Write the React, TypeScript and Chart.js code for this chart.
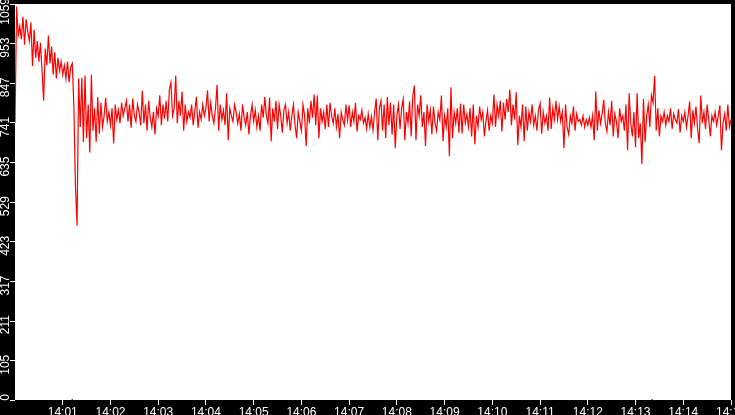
import { useEffect, useRef } from "react";
import { Chart, registerables } from "chart.js";

Chart.register(...registerables);

// one reading every 2 s, from 14:00:00
const SAMPLE_SECONDS = 2;
const READINGS = [
  741, 1052, 975, 1000, 965, 1025, 950, 1018, 985, 960,
  1010, 893, 990, 915, 960, 905, 955, 880, 801, 940,
  895, 975, 900, 945, 870, 930, 860, 915, 880, 905,
  870, 895, 860, 905, 850, 890, 900, 785, 570, 466,
  860, 730, 862, 690, 868, 700, 790, 662, 870, 720,
  780, 690, 810, 712, 795, 730, 760, 808, 745, 770,
  735, 780, 686, 790, 750, 775, 740, 795, 760, 780,
  800, 745, 790, 728, 806, 760, 745, 790, 770, 735,
  827, 740, 790, 720, 800, 756, 730, 770, 710, 780,
  760, 815, 735, 790, 752, 800, 745, 830, 849, 760,
  780, 867, 740, 800, 760, 825, 720, 790, 745, 770,
  755, 790, 735, 772, 811, 728, 770, 750, 790, 760,
  780, 828, 745, 795, 760, 740, 780, 843, 720, 790,
  750, 775, 735, 820, 695, 780, 760, 745, 790, 770,
  740, 765, 720, 790, 755, 735, 770, 710, 760, 790,
  745, 775, 730, 760, 720, 790, 755, 810, 760, 740,
  809, 692, 780, 745, 800, 725, 790, 760, 715, 775,
  790, 740, 770, 720, 760, 790, 735, 700, 770, 745,
  720, 790, 760, 679, 780, 740, 800, 755, 817, 735,
  814, 700, 780, 745, 770, 725, 790, 730, 795, 760,
  740, 780, 730, 765, 700, 770, 750, 735, 790, 748,
  788, 730, 770, 745, 795, 718, 760, 750, 775, 740,
  755, 725, 765, 730, 758, 722, 770, 806, 695, 780,
  800, 720, 790, 700, 810, 735, 795, 710, 790, 673,
  760, 790, 725, 780, 804, 695, 770, 740, 798, 705,
  812, 841, 695, 790, 760, 815, 730, 770, 679, 790,
  745, 775, 710, 785, 740, 720, 770, 750, 814, 692,
  760, 730, 780, 652, 836, 700, 770, 740, 780, 715,
  793, 713, 790, 740, 765, 730, 780, 705, 790, 684,
  760, 730, 785, 750, 770, 705, 745, 775, 720, 760,
  740, 817, 730, 790, 760, 800, 718, 795, 750, 805,
  770, 830, 735, 790, 750, 823, 681, 760, 730, 790,
  692, 785, 720, 770, 745, 790, 735, 760, 720, 775,
  793, 712, 770, 740, 760, 720, 809, 725, 780, 750,
  800, 750, 785, 745, 770, 673, 790, 730, 710, 760,
  740, 785, 720, 765, 745, 750, 735, 760, 730, 750,
  735, 755, 730, 760, 695, 825, 720, 775, 740, 765,
  803, 740, 718, 770, 735, 800, 705, 765, 745, 700,
  780, 745, 760, 720, 790, 668, 820, 740, 705, 770,
  676, 820, 700, 740, 631, 805, 690, 760, 790, 730,
  815, 795, 867, 720, 780, 705, 760, 745, 770, 735,
  760, 745, 780, 725, 765, 750, 740, 778, 715, 760,
  745, 770, 730, 760, 798, 700, 775, 740, 785, 725,
  687, 814, 740, 770, 725, 790, 750, 705, 760, 745,
  770, 735, 760, 788, 668, 740, 765, 720, 790, 730,
  750,
];

// small blue event marks on the zero line (seconds after 14:00)
const MARKER_SECONDS = [72, 801];

const X_TICK_SECONDS = [60, 120, 180, 240, 300, 360, 420, 480, 540, 600, 660, 720, 780, 840, 900];
const X_TICK_LABELS = [
  "14:01", "14:02", "14:03", "14:04", "14:05", "14:06", "14:07", "14:08",
  "14:09", "14:10", "14:11", "14:12", "14:13", "14:14", "14:15",
];
const Y_TICKS = [0, 105, 211, 317, 423, 529, 635, 741, 847, 953, 1059];
const Y_MAX = 1059;
const X_MAX = 900;

const backdrop = {
  id: "backdrop",
  beforeDraw(chart: Chart) {
    const { ctx, chartArea } = chart;
    ctx.save();
    ctx.fillStyle = "#000000";
    ctx.fillRect(0, 0, chart.width, chart.height);
    ctx.fillStyle = "#ffffff";
    ctx.fillRect(chartArea.left, chartArea.top, chartArea.right - chartArea.left, chartArea.bottom - chartArea.top);
    ctx.restore();
  },
};

function RateChart() {
  const ref = useRef<HTMLCanvasElement>(null);

  useEffect(() => {
    const canvas = ref.current;
    if (!canvas) return;

    const points = READINGS.map((v, i) => ({ x: i * SAMPLE_SECONDS, y: v }));
    const marks = MARKER_SECONDS.map((s) => ({ x: s, y: 0 }));
    const font = { family: "'Liberation Sans Narrow', 'Liberation Sans', Arial, sans-serif", size: 12 };

    const chart = new Chart(canvas, {
      type: "line",
      data: {
        datasets: [
          {
            data: points,
            borderColor: "#ff0000",
            borderWidth: 1.2,
            pointRadius: 0,
            tension: 0,
          },
          {
            data: marks,
            showLine: false,
            pointRadius: 1,
            pointStyle: "rect",
            borderWidth: 0,
            backgroundColor: "#0000ff",
          },
        ],
      },
      options: {
        animation: false,
        responsive: false,
        devicePixelRatio: 1,
        layout: { padding: 0 },
        plugins: {
          legend: { display: false },
          tooltip: { enabled: false },
        },
        scales: {
          x: {
            type: "linear",
            min: 0,
            max: X_MAX,
            border: { display: false },
            grid: {
              drawOnChartArea: false,
              drawTicks: true,
              tickLength: 5,
              color: "#ffffff",
            },
            ticks: {
              color: "#ffffff",
              font,
              padding: 0,
              autoSkip: false,
              maxRotation: 0,
              minRotation: 0,
              callback: (v) => X_TICK_LABELS[X_TICK_SECONDS.indexOf(Number(v))] ?? "",
            },
            afterBuildTicks: (scale) => {
              scale.ticks = X_TICK_SECONDS.map((s) => ({ value: s }));
            },
            afterFit: (scale) => {
              scale.height = 15;
              scale.paddingLeft = 0;
              scale.paddingRight = 0;
            },
          },
          y: {
            type: "linear",
            min: 0,
            max: Y_MAX,
            border: { display: false },
            grid: {
              drawOnChartArea: false,
              drawTicks: true,
              tickLength: 5,
              color: "#ffffff",
            },
            ticks: {
              color: "#ffffff",
              font,
              padding: 4.5,
              autoSkip: false,
              minRotation: 90,
              maxRotation: 90,
              labelOffset: -6,
              callback: (v) => String(v),
            },
            afterBuildTicks: (scale) => {
              scale.ticks = Y_TICKS.map((v) => ({ value: v }));
            },
            afterFit: (scale) => {
              scale.width = 15;
              scale.paddingTop = 0;
              scale.paddingBottom = 0;
            },
          },
        },
      },
      plugins: [backdrop],
    });
    return () => chart.destroy();
  }, []);

  return <canvas ref={ref} width={735} height={415} style={{ display: "block" }} />;
}

export default function App() {
  useEffect(() => {
    document.body.style.margin = "0";
  }, []);
  return (
    <div style={{ width: 735, height: 415 }}>
      <RateChart />
    </div>
  );
}
